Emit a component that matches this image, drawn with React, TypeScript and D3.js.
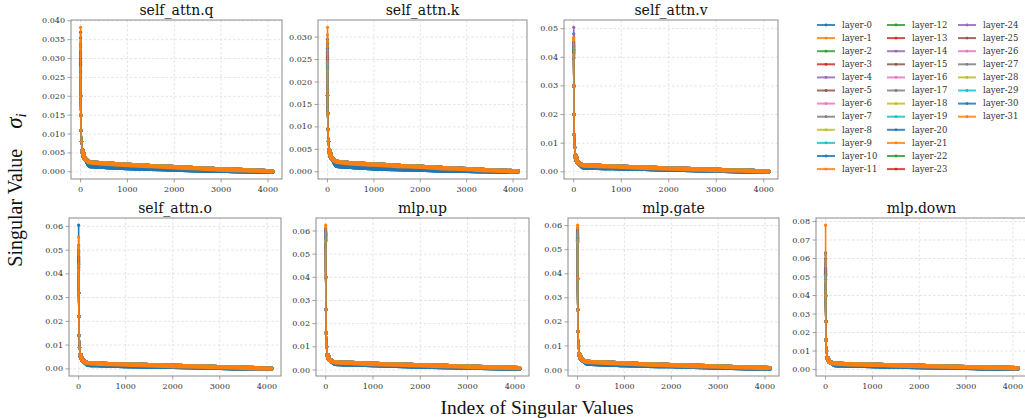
import React from 'react';
import * as d3 from 'd3';

// tab10 colour cycle, as matplotlib uses it
const COLORS = ['#1f77b4', '#ff7f0e', '#2ca02c', '#d62728', '#9467bd', '#8c564b', '#e377c2', '#7f7f7f', '#bcbd22', '#17becf'];
const LAYERS = d3.range(32).map((i) => `layer-${i}`);

const TITLES = ['self_attn.q', 'self_attn.k', 'self_attn.v', 'self_attn.o', 'mlp.up', 'mlp.gate', 'mlp.down'];

const INDEX = [0, 2, 5, 10, 20, 40, 70, 120, 200, 500, 1000, 1500, 2000, 2500, 3000, 3500, 4095];
const X_TICKS = [0, 1000, 2000, 3000, 4000];

// largest singular value of each layer (index 0), per panel
const PEAK_Q = [0.0370, 0.0335, 0.0310, 0.0290, 0.0280, 0.0300, 0.0265, 0.0250, 0.0275, 0.0260, 0.0320, 0.0330, 0.0285, 0.0295, 0.0305, 0.0270, 0.0255, 0.0262, 0.0248, 0.0292, 0.0315, 0.0340, 0.0280, 0.0300, 0.0310, 0.0288, 0.0275, 0.0266, 0.0258, 0.0272, 0.0355, 0.0383];
const PEAK_K = [0.0295, 0.0280, 0.0265, 0.0250, 0.0240, 0.0255, 0.0230, 0.0220, 0.0245, 0.0235, 0.0270, 0.0305, 0.0250, 0.0260, 0.0262, 0.0238, 0.0228, 0.0232, 0.0218, 0.0248, 0.0285, 0.0290, 0.0244, 0.0258, 0.0266, 0.0252, 0.0242, 0.0236, 0.0226, 0.0240, 0.0275, 0.0322];
const PEAK_V = [0.0482, 0.0455, 0.0440, 0.0420, 0.0505, 0.0430, 0.0410, 0.0400, 0.0415, 0.0425, 0.0445, 0.0470, 0.0435, 0.0428, 0.0450, 0.0412, 0.0405, 0.0398, 0.0408, 0.0418, 0.0438, 0.0460, 0.0422, 0.0416, 0.0442, 0.0426, 0.0402, 0.0396, 0.0410, 0.0430, 0.0452, 0.0465];
const PEAK_O = [0.0605, 0.0480, 0.0450, 0.0470, 0.0520, 0.0500, 0.0440, 0.0430, 0.0420, 0.0435, 0.0460, 0.0490, 0.0445, 0.0455, 0.0475, 0.0495, 0.0425, 0.0438, 0.0418, 0.0448, 0.0465, 0.0510, 0.0442, 0.0452, 0.0485, 0.0472, 0.0432, 0.0428, 0.0415, 0.0440, 0.0458, 0.0555];
const PEAK_UP = [0.0590, 0.0600, 0.0585, 0.0575, 0.0580, 0.0570, 0.0565, 0.0560, 0.0555, 0.0572, 0.0595, 0.0610, 0.0578, 0.0582, 0.0588, 0.0568, 0.0562, 0.0558, 0.0552, 0.0576, 0.0598, 0.0615, 0.0574, 0.0586, 0.0592, 0.0566, 0.0564, 0.0559, 0.0556, 0.0583, 0.0605, 0.0625];
const PEAK_GATE = [0.0575, 0.0585, 0.0560, 0.0550, 0.0555, 0.0545, 0.0540, 0.0535, 0.0530, 0.0548, 0.0570, 0.0590, 0.0552, 0.0558, 0.0565, 0.0542, 0.0538, 0.0533, 0.0528, 0.0550, 0.0572, 0.0592, 0.0549, 0.0561, 0.0567, 0.0541, 0.0539, 0.0534, 0.0531, 0.0557, 0.0580, 0.0602];
const PEAK_DOWN = [0.0630, 0.0560, 0.0540, 0.0520, 0.0550, 0.0530, 0.0510, 0.0500, 0.0490, 0.0525, 0.0570, 0.0580, 0.0515, 0.0535, 0.0545, 0.0505, 0.0495, 0.0485, 0.0480, 0.0592, 0.0600, 0.0620, 0.0512, 0.0528, 0.0548, 0.0518, 0.0498, 0.0488, 0.0478, 0.0508, 0.0545, 0.0780];

// steep drop, index 2 .. 120
const KNEE_Q = [0.020, 0.015, 0.011, 0.0080, 0.0056, 0.0040, 0.0031];
const KNEE_K = [0.017, 0.013, 0.0095, 0.0068, 0.0048, 0.0035, 0.0027];
const KNEE_V = [0.030, 0.020, 0.013, 0.0085, 0.0055, 0.0037, 0.0028];
const KNEE_O = [0.032, 0.022, 0.014, 0.0090, 0.0058, 0.0040, 0.0030];
const KNEE_UP = [0.040, 0.026, 0.016, 0.0100, 0.0065, 0.0048, 0.0039];
const KNEE_GATE = [0.038, 0.025, 0.016, 0.0100, 0.0065, 0.0048, 0.0040];
const KNEE_DOWN = [0.040, 0.026, 0.016, 0.0100, 0.0062, 0.0045, 0.0037];

// long tail, index 200 .. 4095: low / mid / high band
const TAIL_Q = [
  [0.0015, 0.0013, 0.0010, 0.0008, 0.0006, 0.0004, 0.0003, 0.0001, 0.0000],
  [0.0020, 0.0018, 0.0014, 0.0012, 0.0009, 0.0007, 0.0005, 0.0003, 0.0001],
  [0.0025, 0.0022, 0.0018, 0.0015, 0.0012, 0.0009, 0.0006, 0.0004, 0.0001],
];
const TAIL_K = [
  [0.0013, 0.0011, 0.0008, 0.0006, 0.0005, 0.0003, 0.0002, 0.0001, 0.0000],
  [0.0018, 0.0015, 0.0012, 0.0010, 0.0008, 0.0006, 0.0004, 0.0002, 0.0001],
  [0.0022, 0.0019, 0.0016, 0.0013, 0.0011, 0.0008, 0.0006, 0.0003, 0.0001],
];
const TAIL_V = [
  [0.0016, 0.0014, 0.0012, 0.0010, 0.0008, 0.0006, 0.0004, 0.0002, 0.0000],
  [0.0019, 0.0017, 0.0015, 0.0012, 0.0010, 0.0007, 0.0005, 0.0003, 0.0001],
  [0.0022, 0.0020, 0.0017, 0.0014, 0.0011, 0.0009, 0.0006, 0.0004, 0.0001],
];
const TAIL_O = [
  [0.0017, 0.0015, 0.0012, 0.0010, 0.0008, 0.0006, 0.0004, 0.0002, 0.0000],
  [0.0021, 0.0018, 0.0015, 0.0013, 0.0010, 0.0008, 0.0005, 0.0003, 0.0001],
  [0.0024, 0.0021, 0.0018, 0.0015, 0.0012, 0.0010, 0.0007, 0.0004, 0.0001],
];
const TAIL_UP = [
  [0.0027, 0.0024, 0.0021, 0.0018, 0.0015, 0.0013, 0.0010, 0.0008, 0.0005],
  [0.0030, 0.0027, 0.0024, 0.0021, 0.0018, 0.0015, 0.0012, 0.0010, 0.0007],
  [0.0033, 0.0030, 0.0026, 0.0023, 0.0020, 0.0017, 0.0014, 0.0011, 0.0008],
];
const TAIL_GATE = [
  [0.0027, 0.0024, 0.0021, 0.0018, 0.0016, 0.0013, 0.0010, 0.0008, 0.0005],
  [0.0031, 0.0028, 0.0024, 0.0021, 0.0018, 0.0015, 0.0012, 0.0010, 0.0007],
  [0.0034, 0.0031, 0.0027, 0.0023, 0.0020, 0.0017, 0.0014, 0.0011, 0.0008],
];
const TAIL_DOWN = [
  [0.0024, 0.0022, 0.0019, 0.0016, 0.0014, 0.0011, 0.0009, 0.0006, 0.0004],
  [0.0028, 0.0026, 0.0022, 0.0019, 0.0016, 0.0014, 0.0011, 0.0008, 0.0005],
  [0.0032, 0.0029, 0.0026, 0.0022, 0.0019, 0.0016, 0.0013, 0.0010, 0.0007],
];

// which tail band each layer follows (0 low, 1 mid, 2 high)
const TAIL_BAND = [0, 2, 1, 1, 1, 1, 1, 1, 1, 1, 0, 2, 1, 2, 1, 2, 1, 2, 1, 2, 0, 2, 2, 2, 2, 2, 2, 2, 2, 2, 0, 2];

const PEAKS = [PEAK_Q, PEAK_K, PEAK_V, PEAK_O, PEAK_UP, PEAK_GATE, PEAK_DOWN];
const KNEES = [KNEE_Q, KNEE_K, KNEE_V, KNEE_O, KNEE_UP, KNEE_GATE, KNEE_DOWN];
const TAILS = [TAIL_Q, TAIL_K, TAIL_V, TAIL_O, TAIL_UP, TAIL_GATE, TAIL_DOWN];
const Y_TICK_COUNT = [8, 8, 6, 7, 7, 7, 8];
const Y_FORMAT = ['.3f', '.3f', '.2f', '.2f', '.2f', '.2f', '.2f'];

// plot boxes on the page
const BOXES = [
  { left: 71, top: 20, width: 211, height: 159 },
  { left: 318, top: 20, width: 209, height: 159 },
  { left: 564, top: 20, width: 214, height: 159 },
  { left: 69, top: 218, width: 212, height: 158 },
  { left: 316, top: 218, width: 213, height: 158 },
  { left: 568, top: 218, width: 211, height: 158 },
  { left: 816, top: 218, width: 211, height: 158 },
];

const SERIF = "'DejaVu Serif', serif";
const TIMES = "'Liberation Serif', 'Times New Roman', serif";
const GRID = '#d8d8d8';
const SPINE = '#8a8a8a';
const TEXT = '#333';

const layerSeries = (p, l) => {
  const vals = [PEAKS[p][l], ...KNEES[p], ...TAILS[p][TAIL_BAND[l]]];
  return INDEX.map((i, k) => [i, vals[k]]);
};

const Panel = ({ p }) => {
  const box = BOXES[p];
  const all = LAYERS.map((_, l) => layerSeries(p, l));
  const n = INDEX[INDEX.length - 1];
  const x = d3.scaleLinear().domain([-0.05 * n, 1.05 * n]).range([box.left, box.left + box.width]);
  const [lo, hi] = d3.extent(all.flat(), (d) => d[1]);
  const pad = (hi - lo) * 0.05;
  const y = d3.scaleLinear().domain([lo - pad, hi + pad]).range([box.top + box.height, box.top]);
  const yTicks = y.ticks(Y_TICK_COUNT[p]).filter((t) => t >= 0);
  const fmt = d3.format(Y_FORMAT[p]);
  const line = d3.line().x((d) => x(d[0])).y((d) => y(d[1])).curve(d3.curveMonotoneX);
  const bottom = box.top + box.height;
  const clipId = `clip-${p}`;

  return (
    <g>
      <defs>
        <clipPath id={clipId}>
          <rect x={box.left} y={box.top} width={box.width} height={box.height} />
        </clipPath>
      </defs>
      {X_TICKS.map((t) => (
        <line key={`gx${t}`} x1={x(t)} x2={x(t)} y1={box.top} y2={bottom} stroke={GRID} strokeWidth={0.7} strokeDasharray="2.5,2" />
      ))}
      {yTicks.map((t) => (
        <line key={`gy${t}`} x1={box.left} x2={box.left + box.width} y1={y(t)} y2={y(t)} stroke={GRID} strokeWidth={0.7} strokeDasharray="2.5,2" />
      ))}
      <g clipPath={`url(#${clipId})`}>
        {all.map((s, l) => (
          <g key={l}>
            <path d={line(s)} fill="none" stroke={COLORS[l % 10]} strokeWidth={1.6} strokeLinejoin="round" />
            <path d={line(s.slice(5))} fill="none" stroke={COLORS[l % 10]} strokeWidth={4.4} strokeLinejoin="round" strokeLinecap="round" />
            {s.slice(0, 7).map((d, k) => (
              <circle key={k} cx={x(d[0])} cy={y(d[1])} r={1.6} fill={COLORS[l % 10]} />
            ))}
          </g>
        ))}
      </g>
      <rect x={box.left} y={box.top} width={box.width} height={box.height} fill="none" stroke={SPINE} strokeWidth={1} />
      {X_TICKS.map((t) => (
        <g key={`tx${t}`}>
          <line x1={x(t)} x2={x(t)} y1={bottom} y2={bottom + 3.5} stroke={SPINE} strokeWidth={0.8} />
          <text x={x(t)} y={bottom + 13} textAnchor="middle" fontSize={8} fontFamily={SERIF} fill={TEXT}>{t}</text>
        </g>
      ))}
      {yTicks.map((t) => (
        <g key={`ty${t}`}>
          <line x1={box.left - 3.5} x2={box.left} y1={y(t)} y2={y(t)} stroke={SPINE} strokeWidth={0.8} />
          <text x={box.left - 6} y={y(t)} dy="0.32em" textAnchor="end" fontSize={8} fontFamily={SERIF} fill={TEXT}>{fmt(t)}</text>
        </g>
      ))}
      <text x={box.left + box.width / 2} y={box.top - 5} textAnchor="middle" fontSize={14} fontFamily={SERIF} fill="#111">{TITLES[p]}</text>
    </g>
  );
};

const Legend = () => {
  const colX = [817, 887, 958];
  const row = d3.scaleLinear().domain([0, 1]).range([25, 38.1]);
  return (
    <g>
      {LAYERS.map((name, l) => {
        const c = Math.floor(l / 12);
        const r = l % 12;
        const lx = colX[c];
        const ly = row(r);
        return (
          <g key={name}>
            <line x1={lx} x2={lx + 18} y1={ly} y2={ly} stroke={COLORS[l % 10]} strokeWidth={2} strokeOpacity={0.85} />
            <circle cx={lx + 9} cy={ly} r={1.4} fill={COLORS[l % 10]} />
            <text x={lx + 25} y={ly} dy="0.32em" fontSize={8.5} fontFamily={SERIF} fill={TEXT}>{name}</text>
          </g>
        );
      })}
    </g>
  );
};

export default function App() {
  return (
    <svg width={1025} height={418} style={{ position: 'absolute', left: 0, top: 0, background: '#fff' }}>
      <rect width={1025} height={418} fill="#fff" />
      {TITLES.map((_, p) => <Panel key={p} p={p} />)}
      <Legend />
      <text x={537} y={414} textAnchor="middle" fontSize={19.5} fontFamily={TIMES} fill="#111">Index of Singular Values</text>
      <text transform="translate(22,190) rotate(-90)" textAnchor="middle" fontSize={20} fontFamily={TIMES} fill="#111">
        Singular Value{'\u2002\u2002'}
        <tspan fontStyle="italic" fontSize={23}>σ</tspan>
        <tspan fontStyle="italic" fontSize={15} dy={4}>i</tspan>
      </text>
    </svg>
  );
}
